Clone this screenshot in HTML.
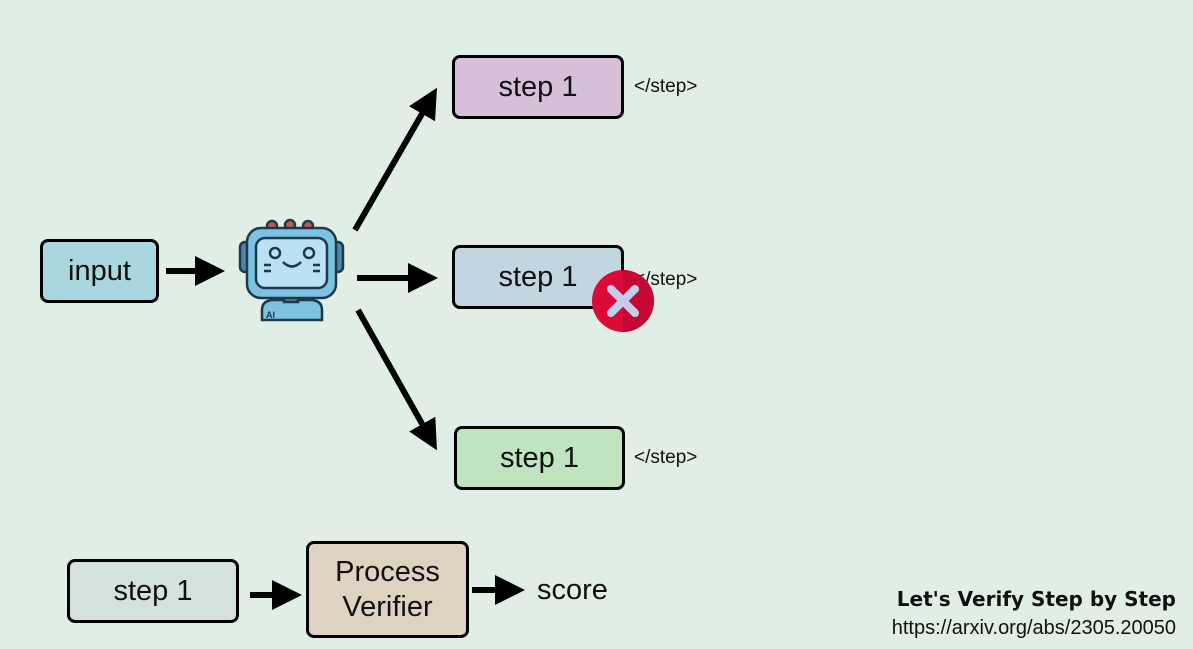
<!DOCTYPE html>
<html><head><style>
html,body{margin:0;padding:0}
body{width:1193px;height:649px;background:#e0eee6;position:relative;overflow:hidden;font-family:"Liberation Sans",sans-serif}
.b{position:absolute;box-sizing:border-box;border:3px solid #000;border-radius:8px;display:flex;align-items:center;justify-content:center;font-size:29px;color:#111;text-align:center;line-height:1.2}
.t{position:absolute;font-size:19px;color:#111}
</style></head><body>
<div class="b" style="left:40px;top:239px;width:119px;height:64px;background:#a9d6df">input</div>
<div class="b" style="left:452px;top:55px;width:172px;height:64px;background:#d8bfd8">step 1</div>
<div class="b" style="left:452px;top:245px;width:172px;height:64px;background:#c2d6e0">step 1</div>
<div class="b" style="left:454px;top:426px;width:171px;height:64px;background:#c0e3c0">step 1</div>
<div class="b" style="left:67px;top:559px;width:172px;height:64px;background:#d3e2dc">step 1</div>
<div class="b" style="left:306px;top:541px;width:163px;height:97px;background:#ddd3c0">Process<br>Verifier</div>
<div class="t" style="left:634px;top:76px">&lt;/step&gt;</div>
<div class="t" style="left:634px;top:269px">&lt;/step&gt;</div>
<div class="t" style="left:634px;top:447px">&lt;/step&gt;</div>
<div class="t" style="left:537px;top:574px;font-size:29px">score</div>
<div class="t" style="left:880px;top:587px;width:296px;text-align:right;font-family:'DejaVu Sans',sans-serif;font-weight:bold;font-size:20px">Let's Verify Step by Step</div>
<div class="t" style="left:780px;top:617px;width:396px;text-align:right;font-size:20px">https://arxiv.org/abs/2305.20050</div>
<svg width="1193" height="649" style="position:absolute;left:0;top:0">
<defs><marker id="a" markerWidth="6" markerHeight="6" refX="4" refY="3" orient="auto" markerUnits="strokeWidth"><path d="M0,0.5 L5,3 L0,5.5Z" fill="#000"/></marker></defs>
<g stroke="#000" stroke-width="6" marker-end="url(#a)">
<line x1="166" y1="271" x2="219" y2="271"/>
<line x1="355" y1="230" x2="434" y2="93"/>
<line x1="357" y1="278" x2="432" y2="278"/>
<line x1="358" y1="310" x2="434" y2="445"/>
<line x1="250" y1="595" x2="296" y2="595"/>
<line x1="472" y1="590" x2="519" y2="590"/>
</g>
<!-- robot -->
<g stroke="#1e3a4a" stroke-width="2.5">
<circle cx="272" cy="226" r="5" fill="#c05a5a"/><circle cx="290" cy="225" r="5" fill="#c05a5a"/><circle cx="308" cy="226" r="5" fill="#c05a5a"/>
<rect x="240" y="242" width="10" height="30" rx="5" fill="#4a86a8"/>
<rect x="333" y="242" width="10" height="30" rx="5" fill="#4a86a8"/>
<path d="M262,320 v-10 q0,-10 12,-10 h36 q12,0 12,10 v10z" fill="#7cc3e3"/>
<rect x="284" y="292" width="14" height="10" fill="#4a86a8"/>
<rect x="247" y="228" width="89" height="70" rx="14" fill="#7cc3e3"/>
<rect x="256" y="238" width="71" height="50" rx="9" fill="#b9e2f2"/>
<circle cx="275" cy="253" r="5" fill="none"/><circle cx="309" cy="253" r="5" fill="none"/>
<path d="M283,262 q9,9 18,0" fill="none"/>
<path d="M264,265h7M264,271h7M313,265h7M313,271h7"/>
</g>
<text x="266" y="318" font-family="Liberation Sans" font-weight="bold" font-size="9" fill="#1e3a4a">AI</text>
<!-- x -->
<circle cx="623" cy="301" r="31" fill="#dc0a38"/>
<path d="M623,270 a31,31 0 0 1 0,62z" fill="#c50733"/>
<g stroke="#c0d0ec" stroke-width="8" stroke-linecap="round"><line x1="611" y1="289" x2="635" y2="313"/><line x1="635" y1="289" x2="611" y2="313"/></g>
</svg>
</body></html>
